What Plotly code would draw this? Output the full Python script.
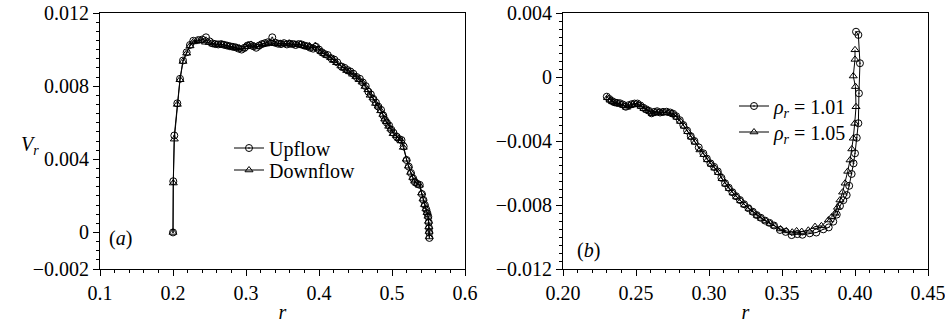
import plotly.graph_objects as go

# ---------------- Panel (a) data ----------------
r_up = [0.2000, 0.2004, 0.2018, 0.2059, 0.2096, 0.2137, 0.2187, 0.2233, 0.2278, 0.2347,
        0.2400, 0.2452, 0.2500, 0.2540, 0.2580, 0.2620, 0.2660, 0.2700, 0.2740, 0.2780,
        0.2820, 0.2860, 0.2900, 0.2940, 0.2980, 0.3020, 0.3060, 0.3100, 0.3140, 0.3180,
        0.3220, 0.3260, 0.3300, 0.3360, 0.3400, 0.3440, 0.3480, 0.3520, 0.3560, 0.3600,
        0.3640, 0.3680, 0.3720, 0.3760, 0.3800, 0.3840, 0.3880, 0.3920, 0.3960, 0.4000,
        0.4040, 0.4080, 0.4120, 0.4170, 0.4210, 0.4250, 0.4310, 0.4350, 0.4390, 0.4430,
        0.4470, 0.4515, 0.4560, 0.4600, 0.4640, 0.4676, 0.4710, 0.4745, 0.4780, 0.4813,
        0.4850, 0.4880, 0.4904, 0.4930, 0.4960, 0.4990, 0.5020, 0.5064, 0.5100, 0.5130,
        0.5160, 0.5200, 0.5230, 0.5260, 0.5290, 0.5315, 0.5350, 0.5380, 0.5410, 0.5430,
        0.5450, 0.5470, 0.5485, 0.5497, 0.5503, 0.5507, 0.5510, 0.5512]
v_up = [0.0, 2.80, 5.30, 7.06, 8.40, 9.40, 9.85, 10.25, 10.48, 10.52,
        10.55, 10.67, 10.45, 10.34, 10.30, 10.28, 10.30, 10.26, 10.22, 10.18,
        10.15, 10.12, 10.05, 10.00, 10.10, 10.22, 10.25, 10.18, 10.10, 10.22,
        10.30, 10.35, 10.40, 10.67, 10.38, 10.32, 10.30, 10.35, 10.28, 10.32,
        10.30, 10.25, 10.30, 10.28, 10.22, 10.18, 10.10, 10.05, 10.15, 10.00,
        9.85, 9.75, 9.70, 9.52, 9.45, 9.30, 9.07, 9.00, 8.88, 8.80,
        8.68, 8.50, 8.40, 8.20, 8.00, 7.70, 7.55, 7.30, 7.10, 6.88,
        6.70, 6.40, 6.15, 6.00, 5.85, 5.62, 5.45, 5.24, 5.10, 5.05,
        4.70, 3.96, 3.60, 3.25, 2.95, 2.75, 2.65, 2.60, 2.10, 1.78,
        1.50, 1.25, 1.05, 0.86, 0.55, 0.25, 0.00, -0.30]

r_down = [0.2000, 0.2004, 0.2018, 0.2059, 0.2096, 0.2137, 0.2187, 0.2233, 0.2278, 0.2340,
          0.2390, 0.2445, 0.2495, 0.2545, 0.2590, 0.2630, 0.2670, 0.2710, 0.2750, 0.2790,
          0.2830, 0.2870, 0.2910, 0.2950, 0.2990, 0.3030, 0.3070, 0.3110, 0.3150, 0.3190,
          0.3230, 0.3270, 0.3310, 0.3350, 0.3390, 0.3430, 0.3470, 0.3510, 0.3550, 0.3590,
          0.3630, 0.3670, 0.3710, 0.3750, 0.3790, 0.3830, 0.3870, 0.3910, 0.3950, 0.3990,
          0.4030, 0.4070, 0.4110, 0.4160, 0.4200, 0.4240, 0.4300, 0.4340, 0.4380, 0.4420,
          0.4460, 0.4505, 0.4550, 0.4590, 0.4630, 0.4670, 0.4700, 0.4740, 0.4775, 0.4810,
          0.4845, 0.4875, 0.4900, 0.4925, 0.4955, 0.4985, 0.5015, 0.5060, 0.5095, 0.5125,
          0.5155, 0.5195, 0.5225, 0.5255, 0.5285, 0.5310, 0.5345, 0.5375, 0.5405, 0.5425,
          0.5445, 0.5465, 0.5480, 0.5493, 0.5500, 0.5505, 0.5508, 0.5510]
v_down = [0.0, 2.70, 5.10, 7.00, 8.35, 9.35, 9.80, 10.20, 10.42, 10.48,
          10.50, 10.40, 10.38, 10.30, 10.28, 10.25, 10.28, 10.24, 10.20, 10.16,
          10.12, 10.10, 10.08, 10.02, 10.15, 10.25, 10.28, 10.20, 10.14, 10.26,
          10.32, 10.30, 10.35, 10.36, 10.32, 10.30, 10.34, 10.30, 10.32, 10.35,
          10.28, 10.30, 10.26, 10.30, 10.20, 10.15, 10.20, 10.08, 10.22, 10.02,
          9.88, 9.78, 9.68, 9.55, 9.40, 9.28, 9.10, 8.98, 8.85, 8.78,
          8.65, 8.52, 8.35, 8.22, 7.98, 7.80, 7.50, 7.35, 7.05, 6.90,
          6.65, 6.45, 6.20, 6.05, 5.80, 5.65, 5.40, 5.28, 5.12, 5.00,
          4.65, 4.00, 3.62, 3.28, 3.00, 2.80, 2.68, 2.58, 2.15, 1.82,
          1.52, 1.28, 1.08, 0.88, 0.60, 0.30, 0.05, -0.25]

# ---------------- Panel (b) data ----------------
r_101 = [0.2300, 0.2318, 0.2335, 0.2352, 0.2370, 0.2390, 0.2410, 0.2430, 0.2450, 0.2470,
         0.2490, 0.2510, 0.2530, 0.2550, 0.2570, 0.2590, 0.2607, 0.2625, 0.2645, 0.2665,
         0.2685, 0.2710, 0.2735, 0.2755, 0.2775, 0.2800, 0.2824, 0.2850, 0.2875, 0.2900,
         0.2930, 0.2961, 0.2985, 0.3010, 0.3035, 0.3060, 0.3085, 0.3110, 0.3135, 0.3160,
         0.3185, 0.3212, 0.3240, 0.3270, 0.3300, 0.3327, 0.3355, 0.3385, 0.3415, 0.3445,
         0.3486, 0.3525, 0.3566, 0.3605, 0.3640, 0.3690, 0.3735, 0.3783, 0.3820, 0.3851,
         0.3875, 0.3897, 0.3920, 0.3943, 0.3960, 0.3977, 0.3990, 0.4000, 0.4012, 0.4023,
         0.4027, 0.4034, 0.4023, 0.4007]
v_101 = [-1.23, -1.38, -1.50, -1.58, -1.62, -1.64, -1.72, -1.86, -1.76, -1.70,
         -1.66, -1.66, -1.78, -1.92, -2.02, -2.12, -2.27, -2.18, -2.14, -2.22,
         -2.18, -2.17, -2.22, -2.30, -2.45, -2.70, -3.00, -3.35, -3.70, -4.00,
         -4.40, -4.77, -5.10, -5.40, -5.62, -5.90, -6.30, -6.64, -6.92, -7.20,
         -7.45, -7.69, -7.95, -8.20, -8.42, -8.63, -8.80, -8.98, -9.12, -9.28,
         -9.56, -9.68, -9.88, -9.82, -9.86, -9.77, -9.72, -9.52, -9.40, -9.04,
         -8.60, -8.06, -7.70, -7.38, -6.80, -6.06, -5.40, -4.77, -3.80, -2.89,
         -1.02, 0.86, 2.63, 2.83]

r_105 = [0.2305, 0.2322, 0.2340, 0.2358, 0.2376, 0.2395, 0.2415, 0.2435, 0.2455, 0.2475,
         0.2495, 0.2515, 0.2535, 0.2555, 0.2575, 0.2595, 0.2612, 0.2630, 0.2650, 0.2670,
         0.2690, 0.2715, 0.2740, 0.2760, 0.2780, 0.2805, 0.2830, 0.2855, 0.2880, 0.2905,
         0.2938, 0.2965, 0.2990, 0.3015, 0.3040, 0.3065, 0.3090, 0.3115, 0.3140, 0.3165,
         0.3190, 0.3218, 0.3245, 0.3275, 0.3305, 0.3332, 0.3360, 0.3390, 0.3420, 0.3450,
         0.3490, 0.3530, 0.3570, 0.3600, 0.3635, 0.3680, 0.3726, 0.3770, 0.3818, 0.3840,
         0.3863, 0.3880, 0.3897, 0.3915, 0.3932, 0.3950, 0.3966, 0.3978, 0.3988, 0.3998,
         0.4007, 0.4003, 0.3988, 0.4000, 0.4000]
v_105 = [-1.30, -1.45, -1.55, -1.62, -1.66, -1.70, -1.78, -1.90, -1.80, -1.74,
         -1.70, -1.72, -1.84, -1.98, -2.08, -2.16, -2.30, -2.22, -2.20, -2.26,
         -2.22, -2.22, -2.28, -2.36, -2.52, -2.78, -3.08, -3.42, -3.76, -4.08,
         -4.56, -4.85, -5.18, -5.45, -5.70, -5.98, -6.36, -6.70, -6.98, -7.25,
         -7.50, -7.74, -8.00, -8.22, -8.46, -8.66, -8.84, -9.00, -9.16, -9.32,
         -9.50, -9.62, -9.70, -9.62, -9.66, -9.58, -9.35, -9.30, -8.94, -8.75,
         -8.52, -8.15, -7.69, -7.20, -6.64, -5.90, -5.19, -4.50, -3.83, -2.90,
         -1.86, -0.60, 0.06, 1.10, 1.70]

# tick labels
ya_vals = [-0.002, 0.0, 0.004, 0.008, 0.012]
ya_text = ["\u22120.002", "0", "0.004", "0.008", "0.012"]
xa_vals = [0.1, 0.2, 0.3, 0.4, 0.5, 0.6]
xa_text = ["0.1", "0.2", "0.3", "0.4", "0.5", "0.6"]
yb_vals = [-0.012, -0.008, -0.004, 0.0, 0.004]
yb_text = ["\u22120.012", "\u22120.008", "\u22120.004", "0", "0.004"]
xb_vals = [0.20, 0.25, 0.30, 0.35, 0.40, 0.45]
xb_text = ["0.20", "0.25", "0.30", "0.35", "0.40", "0.45"]

FONT = "Liberation Serif"
FS = 20

def scale(v):
    return [x * 1e-3 for x in v]

fig = go.Figure()
line = dict(color="black", width=1)

fig.add_trace(go.Scatter(x=r_up, y=scale(v_up), mode="lines+markers", name="Upflow", showlegend=True,
                         line=line, marker=dict(symbol="circle-open-dot", size=7, color="black", line=dict(width=1)),
                         xaxis="x", yaxis="y", legend="legend"))
fig.add_trace(go.Scatter(x=r_down, y=scale(v_down), mode="lines+markers", name="Downflow", showlegend=True,
                         line=line, marker=dict(symbol="triangle-up-open", size=7, color="black", line=dict(width=1)),
                         xaxis="x", yaxis="y", legend="legend2"))
fig.add_trace(go.Scatter(x=r_101, y=scale(v_101), mode="lines+markers", showlegend=True,
                         name="<i>\u03c1<sub>r</sub></i> = 1.01",
                         line=line, marker=dict(symbol="circle-open-dot", size=7, color="black", line=dict(width=1)),
                         xaxis="x2", yaxis="y2", legend="legend3"))
fig.add_trace(go.Scatter(x=r_105, y=scale(v_105), mode="lines+markers", showlegend=True,
                         name="<i>\u03c1<sub>r</sub></i> = 1.05",
                         line=line, marker=dict(symbol="triangle-up-open", size=7, color="black", line=dict(width=1)),
                         xaxis="x2", yaxis="y2", legend="legend4"))

L, R, T, B = 100, 17, 13, 56
W, H = 945, 325
PW = W - L - R
PH = H - T - B

def px(x):
    return (x - L) / PW

def py(y):
    return (H - B - y) / PH

axis_common = dict(showline=True, linecolor="black", linewidth=1, mirror=True,
                   ticks="outside", ticklen=6, tickcolor="black", tickwidth=1,
                   showgrid=False, zeroline=False, automargin=False,
                   ticklabeloverflow="allow",
                   tickfont=dict(family=FONT, size=FS, color="black"))

fig.update_layout(
    width=W, height=H,
    margin=dict(l=L, r=R, t=T, b=B, autoexpand=False),
    paper_bgcolor="white", plot_bgcolor="white",
    showlegend=True,
    font=dict(family=FONT, size=FS, color="black"),
    xaxis=dict(domain=[0, px(465)], range=[0.1, 0.6], tickmode="array", tickvals=xa_vals, ticktext=xa_text,
               minor=dict(dtick=0.02, tick0=0.1, ticks="outside", ticklen=3, tickcolor="black"),
               title=dict(text="<i>r</i>", font=dict(family=FONT, size=FS), standoff=1),
               anchor="y", **axis_common),
    yaxis=dict(range=[-0.002, 0.012], tickmode="array", tickvals=ya_vals, ticktext=ya_text,
               minor=dict(dtick=0.0005, tick0=0, ticks="outside", ticklen=3, tickcolor="black"),
               anchor="x", **axis_common),
    xaxis2=dict(domain=[px(563), 1], range=[0.2, 0.45], tickmode="array", tickvals=xb_vals, ticktext=xb_text,
                minor=dict(dtick=0.01, tick0=0.2, ticks="outside", ticklen=3, tickcolor="black"),
                title=dict(text="<i>r</i>", font=dict(family=FONT, size=FS), standoff=1),
                anchor="y2", **axis_common),
    yaxis2=dict(range=[-0.012, 0.004], tickmode="array", tickvals=yb_vals, ticktext=yb_text,
                minor=dict(dtick=0.0005, tick0=0, ticks="outside", ticklen=3, tickcolor="black"),
                anchor="x2", **axis_common),
)

leg_common = dict(bgcolor="rgba(0,0,0,0)", borderwidth=0, itemwidth=30,
                  font=dict(family=FONT, size=FS, color="black"),
                  xanchor="left", yanchor="middle", itemclick=False, visible=True)
fig.update_layout(
    legend=dict(x=px(229), y=py(148), **leg_common),
    legend2=dict(x=px(229), y=py(170), **leg_common),
    legend3=dict(x=px(734), y=py(106), **leg_common),
    legend4=dict(x=px(734), y=py(132), **leg_common),
)

fig.add_annotation(x=px(30), y=py(145), xref="paper", yref="paper", text="<i>V<sub>r</sub></i>",
                   showarrow=False, font=dict(family=FONT, size=FS), xanchor="center", yanchor="middle")
fig.add_annotation(x=px(120), y=py(238), xref="paper", yref="paper", text="(<i>a</i>)",
                   showarrow=False, font=dict(family=FONT, size=FS), xanchor="center", yanchor="middle")
fig.add_annotation(x=px(588), y=py(250), xref="paper", yref="paper", text="(<i>b</i>)",
                   showarrow=False, font=dict(family=FONT, size=FS), xanchor="center", yanchor="middle")

fig.write_html("out.html")
